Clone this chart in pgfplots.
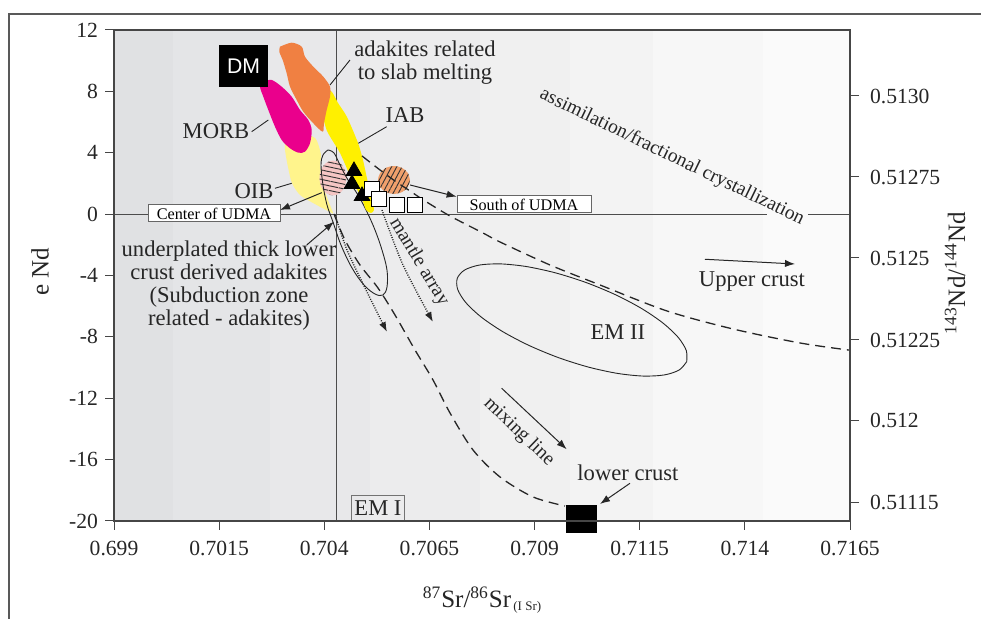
\documentclass[border=0pt]{standalone}
\usepackage{fontspec}
\setmainfont{Liberation Serif}
\newfontfamily\arialfont{Liberation Sans}
\usepackage{pgfplots}
\pgfplotsset{compat=1.18}
\usetikzlibrary{patterns.meta,arrows.meta}

\definecolor{orangeA}{RGB}{240,128,66}
\definecolor{morbC}{RGB}{234,0,140}
\definecolor{iabC}{RGB}{255,240,0}
\definecolor{oibC}{RGB}{255,244,140}
\definecolor{pinkC}{RGB}{246,198,196}
\definecolor{orngC}{RGB}{240,160,108}
\definecolor{frameC}{RGB}{70,70,70}
\definecolor{g1}{RGB}{224,225,227}
\definecolor{g2}{RGB}{228,229,231}
\definecolor{g3}{RGB}{232,232,234}
\definecolor{g4}{RGB}{236,236,237}
\definecolor{g5}{RGB}{240,240,240}
\definecolor{g6}{RGB}{243,243,243}
\definecolor{g7}{RGB}{247,247,247}
\definecolor{g8}{RGB}{250,250,250}

\newcommand\fa{\fontsize{11.3}{11.5}\selectfont}
\newcommand\fb{\fontsize{8.1}{9}\selectfont}
\newcommand\fc{\fontsize{9.8}{11}\selectfont}
\newcommand\ft{\fontsize{10.8}{12}\selectfont}

\begin{document}
\begin{tikzpicture}
\useasboundingbox (0,0) rectangle (490.5pt,-309.5pt);
\draw[line width=0.6pt, color=black!65] (4.5pt,-309.5pt) -- (4.5pt,-7pt) -- (490.5pt,-7pt);

\begin{axis}[
  at={(57pt,-15pt)}, anchor=north west,
  width=368pt, height=245.5pt, scale only axis,
  xmin=0.699, xmax=0.7165, ymin=-20, ymax=12,
  clip=false, axis on top,
  axis line style={frameC, line width=0.6pt},
  tick style={frameC, line width=0.5pt},
  major tick length=4.5pt, tick align=outside,
  xtick pos=bottom, ytick pos=left,
  xtick={0.699,0.7015,0.704,0.7065,0.709,0.7115,0.714,0.7165},
  xticklabels={0.699,0.7015,0.704,0.7065,0.709,0.7115,0.714,0.7165},
  ytick={-20,-16,-12,-8,-4,0,4,8,12},
  yticklabels={-20,-16,-12,-8,-4,0,4,8,12},
  ticklabel style={font=\ft, text=black!85},
  xticklabel style={yshift=-2pt},
  scaled ticks=false,
]
% background bands
\addplot[fill=g1, draw=none] coordinates {(0.699,-20) (0.700403,-20) (0.700403,12) (0.699,12)} --cycle;
\addplot[fill=g2, draw=none] coordinates {(0.700403,-20) (0.702709,-20) (0.702709,12) (0.700403,12)} --cycle;
\addplot[fill=g3, draw=none] coordinates {(0.702709,-20) (0.705087,-20) (0.705087,12) (0.702709,12)} --cycle;
\addplot[fill=g4, draw=none] coordinates {(0.705087,-20) (0.707702,-20) (0.707702,12) (0.705087,12)} --cycle;
\addplot[fill=g5, draw=none] coordinates {(0.707702,-20) (0.709842,-20) (0.709842,12) (0.707702,12)} --cycle;
\addplot[fill=g6, draw=none] coordinates {(0.709842,-20) (0.711816,-20) (0.711816,12) (0.709842,12)} --cycle;
\addplot[fill=g7, draw=none] coordinates {(0.711816,-20) (0.714431,-20) (0.714431,12) (0.711816,12)} --cycle;
\addplot[fill=g8, draw=none] coordinates {(0.714431,-20) (0.7165,-20) (0.7165,12) (0.714431,12)} --cycle;
% reference lines
\addplot[black!70, line width=0.5pt] coordinates {(0.699,0) (0.714519,0)};
\addplot[black!70, line width=0.5pt] coordinates {(0.715501,0) (0.7165,0)};
\addplot[black!70, line width=0.45pt] coordinates {(0.7043,-20) (0.7043,12)};

% OIB field
\addplot[fill=oibC, draw=none, smooth, tension=0.5] coordinates {
  (0.703066,4.831) (0.703423,5.157) (0.703779,4.962) (0.703922,3.854)
  (0.703898,3.202) (0.703969,1.899) (0.704088,0.921) (0.704207,0.074)
  (0.704136,0.139) (0.703732,0.726) (0.703423,1.247) (0.703232,2.029)
  (0.703137,3.072) (0.703066,4.180) (0.703066,4.831)} --cycle;

% pink hatched field
\addplot[fill=pinkC, draw=none, smooth,
  postaction={pattern={Lines[angle=-12,distance=2.3pt,line width=0.45pt]}, pattern color=black!80}]
  coordinates {
  (0.704528,2.355) (0.704485,2.925) (0.704368,3.345) (0.704207,3.495)
  (0.704047,3.345) (0.703929,2.925) (0.703886,2.355) (0.703929,1.785)
  (0.704047,1.364) (0.704207,1.214) (0.704368,1.364) (0.704485,1.785)
  (0.704528,2.355)} --cycle;

% thin loop
\addplot[black!85, line width=0.45pt, smooth, tension=0.6] coordinates {
  (0.704088,4.180) (0.703969,3.854) (0.703922,3.202) (0.703969,1.899)
  (0.704065,0.595) (0.704207,-0.513) (0.704397,-2.012) (0.704659,-3.510)
  (0.704944,-4.618) (0.705206,-5.205) (0.705396,-5.270) (0.705491,-4.749)
  (0.705491,-3.641) (0.705372,-2.337) (0.705206,-1.034) (0.705016,0.139)
  (0.704802,1.247) (0.704564,2.224) (0.704374,3.202) (0.704231,3.984)
  (0.704088,4.180)};

% IAB field
\addplot[fill=iabC, draw=none, smooth, tension=0.4] coordinates {
  (0.704017,8.220) (0.704183,7.959) (0.704326,7.243) (0.704540,6.330)
  (0.704802,4.636) (0.704920,3.528) (0.705039,2.029) (0.705134,0.921)
  (0.705182,0.269) (0.705111,0.074) (0.704992,0.269) (0.704897,0.986)
  (0.704659,2.224) (0.704374,3.984) (0.704065,5.418) (0.703946,6.786)
  (0.704017,8.220)} --cycle;

% MORB field
\addplot[fill=morbC, draw=none, smooth, tension=0.5] coordinates {
  (0.702550,8.631) (0.702750,8.741) (0.702987,8.305) (0.703225,7.653)
  (0.703423,6.786) (0.703620,6.135) (0.703701,5.483) (0.703660,4.616)
  (0.703541,4.069) (0.703382,4.004) (0.703185,4.290) (0.702987,4.831)
  (0.702828,5.698) (0.702669,6.786) (0.702550,7.653) (0.702471,8.305)
  (0.702550,8.631)} --cycle;

% adakites (slab melting) field
\addplot[fill=orangeA, draw=none, smooth, tension=0.5] coordinates {
  (0.702947,10.912) (0.703225,11.172) (0.703463,10.912) (0.703541,10.260)
  (0.703739,9.608) (0.703977,8.957) (0.704136,8.305) (0.704136,7.653)
  (0.704057,6.786) (0.703993,5.920) (0.703962,5.372) (0.703739,5.920)
  (0.703501,6.676) (0.703344,7.438) (0.703185,8.305) (0.703106,9.178)
  (0.703011,10.045) (0.702930,10.586) (0.702947,10.912)} --cycle;

% orange hatched field
\addplot[fill=orngC, draw=none, smooth,
  postaction={pattern={Lines[angle=62,distance=2.3pt,line width=0.45pt]}, pattern color=black!80}]
  coordinates {
  (0.706038,2.224) (0.705987,2.681) (0.705848,3.014) (0.705658,3.137)
  (0.705467,3.014) (0.705328,2.681) (0.705277,2.224) (0.705328,1.768)
  (0.705467,1.434) (0.705658,1.312) (0.705848,1.434) (0.705987,1.768)
  (0.706038,2.224)} --cycle;

% AFC curve
\addplot[black!85, line width=0.65pt, dash pattern=on 5pt off 3pt, smooth] coordinates {
  (0.704897,3.789) (0.705325,2.876) (0.705681,2.159) (0.706038,1.508)
  (0.706395,0.856) (0.706989,-0.122) (0.707774,-1.230) (0.708178,-1.816)
  (0.709367,-3.315) (0.710556,-4.618) (0.712149,-6.313) (0.713718,-7.486)
  (0.715311,-8.398) (0.7165,-8.87)};

% mixing line
\addplot[black!85, line width=0.65pt, dash pattern=on 5pt off 3pt, smooth] coordinates {
  (0.704231,0.009) (0.704492,-1.686) (0.704849,-3.315) (0.705277,-4.814)
  (0.705681,-6.573) (0.706157,-8.854) (0.706585,-10.810) (0.706989,-12.960)
  (0.707536,-15.371) (0.708178,-17.131) (0.708963,-18.434) (0.709723,-19.021)};

% dotted arrows
\addplot[black!85, line width=0.7pt, dash pattern=on 0.5pt off 0.7pt, smooth,
  -{Latex[length=5pt,width=3.6pt]}] coordinates {
  (0.704255,-0.056) (0.704540,-2.337) (0.704992,-4.944) (0.705491,-7.681)};
\addplot[black!85, line width=0.7pt, dash pattern=on 0.5pt off 0.7pt, smooth,
  -{Latex[length=5pt,width=3.6pt]}] coordinates {
  (0.705372,0.269) (0.705872,-3.315) (0.706585,-7.030)};

% EM II field
\addplot[black!85, line width=0.45pt, smooth] coordinates {
  (0.712617,-9.618) (0.712439,-10.160) (0.712089,-10.479) (0.711588,-10.555)
  (0.710972,-10.381) (0.710281,-9.970) (0.709565,-9.350) (0.708870,-8.562)
  (0.708245,-7.662) (0.707732,-6.710) (0.707366,-5.770) (0.707172,-4.907)
  (0.707163,-4.180) (0.707340,-3.639) (0.707691,-3.319) (0.708192,-3.244)
  (0.708808,-3.418) (0.709498,-3.829) (0.710215,-4.449) (0.710910,-5.236)
  (0.711535,-6.136) (0.712048,-7.089) (0.712414,-8.029) (0.712608,-8.892)
  (0.712617,-9.618)};

% samples
\addplot[only marks, mark=triangle*, mark size=4.5pt, black] coordinates {
  (0.704706,2.811) (0.704659,1.964) (0.704897,1.182)};
\addplot[only marks, mark=square*, mark size=3.75pt,
  mark options={fill=white, draw=black, line width=0.5pt}] coordinates {
  (0.705146,1.651) (0.705301,0.999) (0.705722,0.615) (0.706157,0.576)};

% DM and lower crust end-members
\addplot[fill=black, draw=none] coordinates {
  (0.701497,8.285) (0.702662,8.285) (0.702662,11.022) (0.701497,11.022)} --cycle;
\addplot[fill=black, draw=none] coordinates {
  (0.709747,-20.81) (0.710492,-20.81) (0.710492,-18.96) (0.709747,-18.96)} --cycle;

% leader lines and arrows
\addplot[black!85, line width=0.45pt] coordinates {(0.704611,10.045) (0.704136,8.416)};
\addplot[black!85, line width=0.45pt] coordinates {(0.705484,5.698) (0.704809,4.616)};
\addplot[black!85, line width=0.45pt] coordinates {(0.702274,5.372) (0.702669,6.135)};
\addplot[black!85, line width=0.45pt] coordinates {(0.702828,1.684) (0.703225,2.009)};
\addplot[black!85, line width=0.5pt, -{Latex[length=5pt,width=3.6pt]}] coordinates {(0.703939,1.397) (0.702947,0.269)};
\addplot[black!85, line width=0.5pt, -{Latex[length=5pt,width=3.6pt]}] coordinates {(0.706038,1.899) (0.707148,1.136)};
\addplot[black!85, line width=0.5pt, -{Latex[length=5pt,width=3.6pt]}] coordinates {(0.703582,-2.012) (0.704231,-0.493)};
\addplot[black!85, line width=0.5pt, -{Latex[length=5pt,width=3.6pt]}] coordinates {(0.713052,-2.943) (0.715192,-3.250)};
\addplot[black!85, line width=0.5pt, -{Latex[length=5pt,width=3.6pt]}] coordinates {(0.708218,-11.350) (0.709764,-15.326)};
\addplot[black!85, line width=0.5pt, -{Latex[length=5pt,width=3.6pt]}] coordinates {(0.711269,-17.542) (0.710556,-18.891)};

% labels
\node[text=white, font=\arialfont\fontsize{10.6}{12}\selectfont] at (axis cs:0.702079,9.654) {DM};
\node[font=\fa, align=center, text=black!85] at (axis cs:0.706395,9.849) {adakites related\\to slab melting};
\node[font=\fa, text=black!85] at (axis cs:0.705919,6.461) {IAB};
\node[font=\fa, text=black!85] at (axis cs:0.701425,5.418) {MORB};
\node[font=\fa, text=black!85] at (axis cs:0.702329,1.508) {OIB};
\node[font=\fb, draw=black!60, fill=white, line width=0.5pt, minimum width=66pt,
  minimum height=8.5pt, inner sep=0.5pt] at (axis cs:0.701378,0.041) {Center of UDMA};
\node[font=\fb, draw=black!60, fill=white, line width=0.5pt, minimum width=67pt,
  minimum height=8.5pt, inner sep=0.5pt] at (axis cs:0.708749,0.628) {South of UDMA};
\node[font=\fa, align=center, text=black!85] at (axis cs:0.701734,-4.684)
  {underplated thick lower\\crust derived adakites\\(Subduction zone\\related - adakites)};
\node[font=\fc, rotate=-59, text=black!85] at (axis cs:0.706252,-3.119) {mantle array};
\node[font=\fc, rotate=-25.8, text=black!85] at (axis cs:0.712268,3.723) {assimilation/fractional crystallization};
\node[font=\fa, text=black!85] at (axis cs:0.714170,-4.423) {Upper crust};
\node[font=\fa, text=black!85] at (axis cs:0.710983,-7.681) {EM II};
\node[font=\fc, rotate=-44, text=black!85] at (axis cs:0.708630,-14.198) {mixing line};
\node[font=\fa, text=black!85] at (axis cs:0.711221,-16.870) {lower crust};
\node[font=\fa, draw=black!55, line width=0.5pt, minimum width=26.3pt,
  minimum height=12.5pt, inner sep=0.5pt, text=black!85] at (axis cs:0.705277,-19.151) {EM I};
\end{axis}

\begin{axis}[
  at={(57pt,-15pt)}, anchor=north west,
  width=368pt, height=245.5pt, scale only axis,
  xmin=0.699, xmax=0.7165, ymin=-20, ymax=12,
  axis x line=none, axis y line*=right,
  y axis line style={-, frameC, line width=0.6pt},
  tick style={frameC, line width=0.5pt},
  major tick length=4.5pt, tick align=outside,
  ytick={7.699,2.420,-2.859,-8.203,-13.481,-18.825},
  yticklabels={0.5130,0.51275,0.5125,0.51225,0.512,0.51115},
  yticklabel style={font=\ft, text=black!85, xshift=2pt},
]
\addplot[draw=none] coordinates {(0.7,0)};
\end{axis}

\node[rotate=90, font=\fontsize{12.5}{14}\selectfont, text=black!85] at (20pt,-136pt) {e Nd};
\node[rotate=90, font=\fontsize{12.5}{14}\selectfont, text=black!85] at (477.5pt,-136.5pt)
  {\textsuperscript{143}Nd/\textsuperscript{144}Nd};
\node[font=\fontsize{12.5}{14}\selectfont, text=black!85] at (241pt,-300pt)
  {\textsuperscript{87}Sr/\textsuperscript{86}Sr\raisebox{-0.3ex}{\fontsize{6.5}{7}\selectfont\,(I Sr)}};
\end{tikzpicture}
\end{document}
